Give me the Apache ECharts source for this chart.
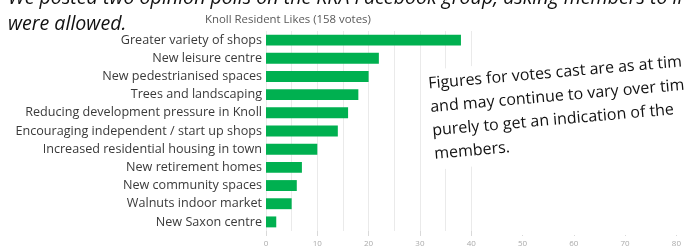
<!DOCTYPE html>
<html>
<head>
<meta charset="utf-8">
<script src="https://cdn.jsdelivr.net/npm/echarts@6/dist/echarts.min.js"></script>
<style>
  html, body { margin: 0; padding: 0; background: #fff; }
  #chart { width: 684px; height: 248px; }
</style>
</head>
<body>
<div id="chart"></div>
<script>
  // poll answers, top to bottom
  var categories = [
    'Greater variety of shops',
    'New leisure centre',
    'New pedestrianised spaces',
    'Trees and landscaping',
    'Reducing development pressure in Knoll',
    'Encouraging independent / start up shops',
    'Increased residential housing in town',
    'New retirement homes',
    'New community spaces',
    'Walnuts indoor market',
    'New Saxon centre'
  ];
  var votes = [38, 22, 20, 18, 16, 14, 10, 7, 6, 5, 2];
  var xTicks = [0, 80, 10]; // min, max, interval

  var introLines = [
    'We posted two opinion polls on the KRA Facebook group, asking members to li',
    'were allowed.'
  ];
  var noteLines = [
    'Figures for votes cast are as at tim',
    'and may continue to vary over tim',
    'purely to get an indication of the',
    'members.'
  ];

  var chart = echarts.init(document.getElementById('chart'));

  // rotated note box (white backed, hides the grid under it)
  var noteChildren = [{
    type: 'rect', z: 4,
    shape: { x: -6, y: -22, width: 300, height: 100 },
    style: { fill: '#fff' }
  }];
  noteLines.forEach(function (t, i) {
    noteChildren.push({
      type: 'text', z: 5,
      style: {
        text: t, x: 0, y: i * 23.5,
        font: '16px "Open Sans", sans-serif',
        fill: '#111', verticalAlign: 'bottom'
      }
    });
  });

  var graphics = [
    // right part of the plot is covered in the source
    { type: 'rect', z: 1, shape: { x: 477, y: 25, width: 210, height: 210 }, style: { fill: '#fff' } },
    {
      type: 'group', z: 5, x: 429, y: 92, rotation: 5 * Math.PI / 180,
      children: noteChildren
    }
  ];
  introLines.forEach(function (t, i) {
    graphics.push({
      type: 'text', z: 5,
      style: {
        text: t, x: 8, y: 8 + i * 26,
        font: 'italic 19.6px "Open Sans", sans-serif',
        fill: '#111', verticalAlign: 'bottom'
      }
    });
  });

  chart.setOption({
    animation: false,
    title: {
      text: 'Knoll Resident Likes (158 votes)',
      left: 200, top: 9,
      textStyle: { fontSize: 11.4, fontWeight: 'normal', color: '#595959', fontFamily: 'Open Sans' }
    },
    grid: { left: 266, right: 5, top: 31, bottom: 13, containLabel: false },
    xAxis: {
      type: 'value',
      min: xTicks[0], max: xTicks[1], interval: xTicks[2],
      axisLine: { show: false },
      axisTick: { show: true, length: 5, lineStyle: { color: '#d9d9d9' } },
      axisLabel: { fontSize: 8, color: '#aaa', margin: 9, fontFamily: 'Open Sans' },
      splitLine: { show: true, lineStyle: { color: '#eaeaea' } },
      minorTick: { show: false, splitNumber: 2 },
      minorSplitLine: { show: true, lineStyle: { color: '#eaeaea' } }
    },
    yAxis: {
      type: 'category',
      data: categories,
      inverse: true,
      axisLine: { show: false },
      axisTick: { show: false },
      axisLabel: { fontSize: 12.6, color: '#3a3a3a', margin: 4, fontFamily: 'Open Sans' }
    },
    series: [{
      type: 'bar',
      data: votes,
      barCategoryGap: '40%',
      itemStyle: { color: '#00b050' }
    }],
    graphic: graphics
  });
</script>
</body>
</html>
